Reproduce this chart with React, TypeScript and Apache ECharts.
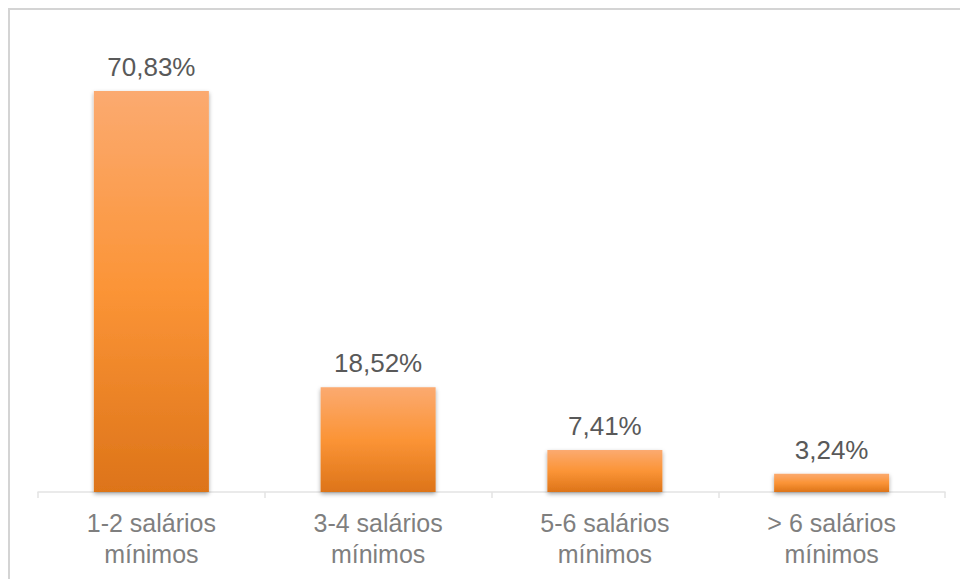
import React, { useEffect, useRef } from "react";
import * as echarts from "echarts";

const categories = ["1-2 salários\nmínimos", "3-4 salários\nmínimos", "5-6 salários\nmínimos", "> 6 salários\nmínimos"];
const values = [70.83, 18.52, 7.41, 3.24];

export default function App() {
  const ref = useRef<HTMLDivElement>(null);
  useEffect(() => {
    const chart = echarts.init(ref.current!, null, { renderer: "svg" });
    chart.setOption({
      animation: false,
      backgroundColor: "#ffffff",
      graphic: [
        {
          type: "rect",
          shape: { x: 9, y: 9, width: 1000, height: 1000 },
          style: { fill: "none", stroke: "#d4d4d4", lineWidth: 2 },
          silent: true,
        },
      ],
      grid: { left: 38, right: 15, top: 39.1, bottom: 87, containLabel: false },
      xAxis: {
        type: "category",
        data: categories,
        axisLine: { show: true, lineStyle: { color: "#e3e3e3", width: 1.5 } },
        axisTick: { show: true, length: 6, lineStyle: { color: "#e3e3e3", width: 1.5 } },
        axisLabel: {
          color: "#7f7f7f",
          fontFamily: "Liberation Sans, Arial, sans-serif",
          fontSize: 25,
          lineHeight: 31,
          margin: 15,
        },
      },
      yAxis: { type: "value", min: 0, max: 80, show: false, splitLine: { show: false } },
      series: [
        {
          type: "bar",
          data: values,
          barWidth: 115,
          itemStyle: {
            color: new echarts.graphic.LinearGradient(0, 0, 0, 1, [
              { offset: 0, color: "#fbaa70" },
              { offset: 0.5, color: "#fb9436" },
              { offset: 1, color: "#dd7419" },
            ]),
            shadowColor: "rgba(0,0,0,0.35)",
            shadowBlur: 4,
            shadowOffsetY: 2,
          },
          label: {
            show: true,
            position: "top",
            distance: 11,
            color: "#595959",
            fontFamily: "Liberation Sans, Arial, sans-serif",
            fontSize: 26,
            formatter: (p: any) => p.value.toFixed(2).replace(".", ",") + "%",
          },
        },
      ],
    });
    return () => chart.dispose();
  }, []);
  return <div ref={ref} style={{ position: "fixed", left: 0, top: 0, width: 960, height: 579 }} />;
}
